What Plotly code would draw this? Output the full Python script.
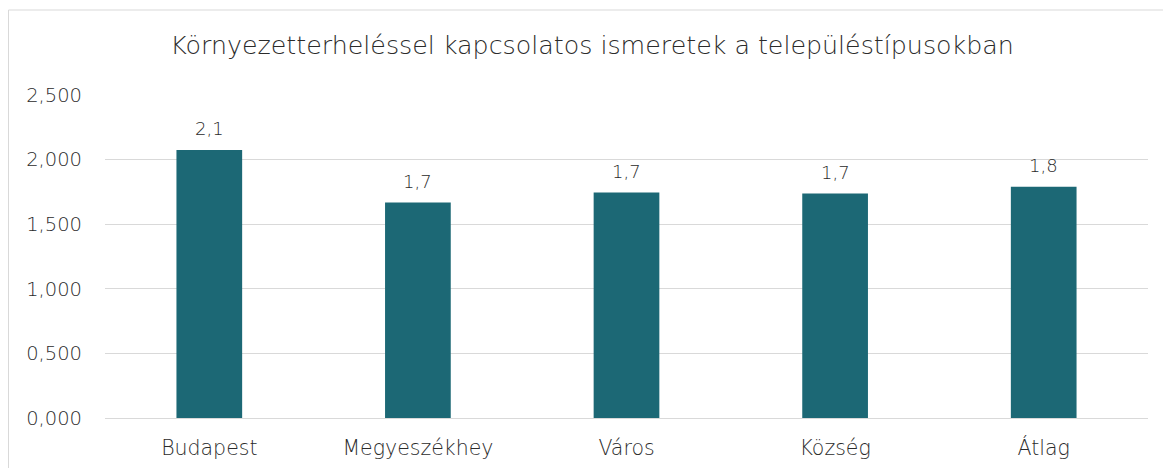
import plotly.graph_objects as go

categories = ["Budapest", "Megyeszékhey", "Város", "Község", "Átlag"]
values = [2.075, 1.667, 1.745, 1.737, 1.789]
y_ticks = [0, 0.5, 1.0, 1.5, 2.0, 2.5]
title_text = "Környezetterheléssel kapcsolatos ismeretek a településtípusokban"

FONT = "DejaVu Sans"
TXT = "#2B2B2B"
BAR = "#1C6875"
GRID = "#D9D9D9"

# The page body adds an 8px offset; margins compensate for it.
W, H = 1171, 468
L, R, T, B = 97, 31, 87, 58
pw, ph = W - L - R, H - T - B

fig = go.Figure()
fig.add_trace(go.Bar(
    x=categories, y=values, marker_color=BAR, marker_line_width=0,
    hoverinfo="skip",
))

for c, v in zip(categories, values):
    fig.add_annotation(
        x=c, y=v, text=f"{v:.1f}".replace(".", ","), showarrow=False,
        yanchor="bottom", yshift=9,
        font=dict(family=FONT, size=18, color=TXT, weight=300),
    )

fig.update_layout(
    width=W, height=H,
    margin=dict(l=L, r=R, t=T, b=B),
    paper_bgcolor="white", plot_bgcolor="white",
    separators=",.",
    bargap=0.685,
    showlegend=False,
    title=dict(text=title_text, x=584 / W, xanchor="center", xref="container",
               y=(H - 37) / H, yref="container", yanchor="middle",
               font=dict(family=FONT, size=25.3, color=TXT, weight=300)),
    font=dict(family=FONT, color=TXT),
    shapes=[dict(type="rect", xref="paper", yref="paper",
                 x0=(0.5 - L) / pw, x1=(1161 - L) / pw,
                 y0=-(B + 5) / ph, y1=(ph + T - 2) / ph,
                 line=dict(color=GRID, width=1), layer="below")],
)

fig.update_yaxes(
    range=[0, 2.5], tickvals=y_ticks, tickformat=".3f",
    showgrid=True, gridcolor=GRID, gridwidth=1,
    zeroline=True, zerolinecolor=GRID, zerolinewidth=1,
    showline=False, ticks="", ticklabelstandoff=22,
    tickfont=dict(family=FONT, size=19.5, color=TXT, weight=300),
)
fig.update_xaxes(
    showgrid=False, showline=False, ticks="", ticklabelstandoff=15,
    tickfont=dict(family=FONT, size=20.5, color=TXT, weight=300),
)

fig.write_html("out.html")
